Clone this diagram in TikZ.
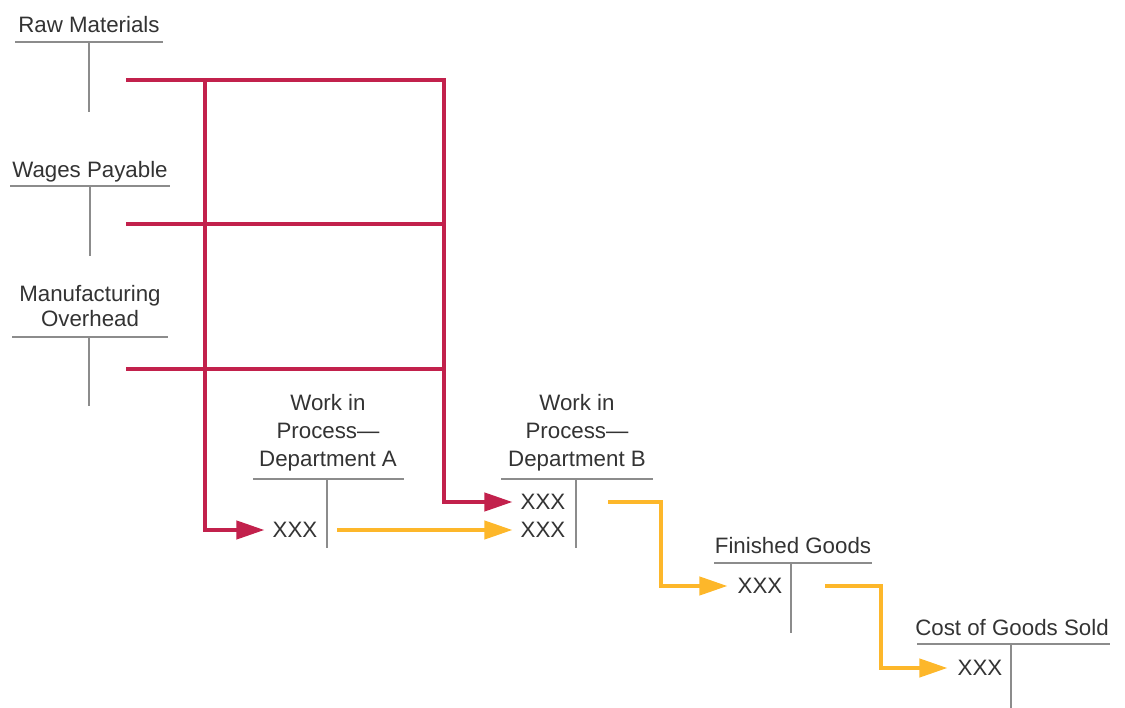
\documentclass[tikz,border=0pt]{standalone}
\usepackage{fontspec}
\setmainfont{Liberation Sans}
\usetikzlibrary{arrows.meta}
\definecolor{flowred}{HTML}{C2214C}
\definecolor{flowgold}{HTML}{FDB72A}
\definecolor{tline}{HTML}{8C8C8C}
\definecolor{ttext}{HTML}{333333}
\begin{document}
\begin{tikzpicture}[x=1pt,y=-1pt,
  title/.style={font=\fontsize{22.3}{28.3}\selectfont, text=ttext, align=center, inner sep=0pt, anchor=base},
  amt/.style={font=\fontsize{22.3}{28}\selectfont, text=ttext, inner sep=0pt},
  tacct/.style={draw=tline, line width=2pt},
  redflow/.style={draw=flowred, line width=4pt},
  goldflow/.style={draw=flowgold, line width=4pt},
  tip/.style={-{Triangle[length=28pt,width=18pt]}},
]
\useasboundingbox (0,0) rectangle (1125,708);

% T-accounts (base anchor = baseline of the last line)
\node[title] (rm) at (89,33) {Raw Materials};
\draw[tacct] (15,42) -- (163,42) (89,42) -- (89,112);

\node[title] (wp) at (90,178) {Wages Payable};
\draw[tacct] (10,186) -- (170,186) (90,186) -- (90,256);

\node[title, font=\fontsize{22.3}{25.5}\selectfont] (mo) at (90,327) {Manufacturing\\Overhead};
\draw[tacct] (12,337) -- (168,337) (89,337) -- (89,406);

\node[title] (wipa) at (328,467) {Work in\\Process---\\Department A};
\draw[tacct] (253,479) -- (404,479) (327,479) -- (327,548);

\node[title] (wipb) at (577,467) {Work in\\Process---\\Department B};
\draw[tacct] (501,479) -- (653,479) (576,479) -- (576,548);

\node[title] (fg) at (793,553) {Finished Goods};
\draw[tacct] (714,563) -- (872,563) (791,563) -- (791,633);

\node[title] (cogs) at (1012,635) {Cost of Goods Sold};
\draw[tacct] (917,644) -- (1110,644) (1011,644) -- (1011,708);

% amounts
\node[amt] (xa) at (295,530) {XXX};
\node[amt] (xb1) at (543,502) {XXX};
\node[amt] (xb2) at (543,530) {XXX};
\node[amt] (xfg) at (760,586) {XXX};
\node[amt] (xc) at (980,668) {XXX};

% red flows
\coordinate (rmout) at (126,80);
\coordinate (wpout) at (126,224);
\coordinate (moout) at (126,369);
\coordinate (trunkA) at (205,80);
\coordinate (trunkB) at (444,80);
\coordinate (wpB) at (444,224);
\coordinate (moB) at (444,369);

\draw[redflow, tip, shorten >=8pt] (rmout) -- (trunkB) |- (xb1.west);
\draw[redflow] (wpout) -- (wpB);
\draw[redflow] (moout) -- (moB);
\draw[redflow, tip, shorten >=8pt] (trunkA) |- (xa.west);

% gold flows
\coordinate (aout) at (337,530);
\coordinate (bout) at (608,502);
\coordinate (bbend) at (661,545);
\coordinate (fgout) at (825,586);
\coordinate (fgbend) at (881,630);

\draw[goldflow, tip, shorten >=8pt] (aout) -- (xb2.west);
\draw[goldflow, tip, shorten >=10pt] (bout) -| (bbend) |- (xfg.west);
\draw[goldflow, tip, shorten >=10pt] (fgout) -| (fgbend) |- (xc.west);
\end{tikzpicture}
\end{document}
